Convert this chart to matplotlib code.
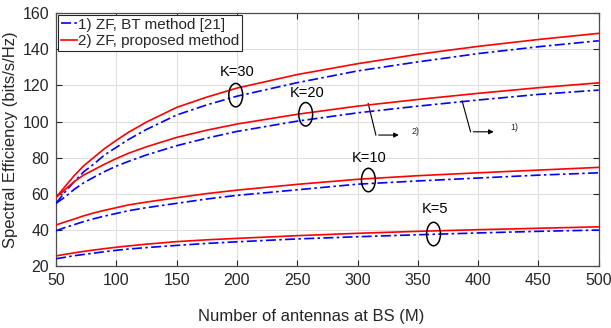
import matplotlib
matplotlib.use('Agg')
import matplotlib.pyplot as plt
from matplotlib.patches import Ellipse

plt.rcParams['font.family'] = ['Liberation Sans', 'DejaVu Sans']

# number of BS antennas
M = [50, 57, 65, 73, 82, 90, 100, 110, 125, 150, 175, 200, 250, 300, 350, 400, 450, 500]

# spectral efficiency (bits/s/Hz), BT method [21] and proposed method
bt_k30 = [54.7, 60.6, 66.7, 72.2, 76.8, 81.4, 85.7, 90.0, 95.6, 103.6, 109.2, 114.0, 121.5, 128.0, 133.0, 137.6, 141.4, 144.7]
pr_k30 = [58.0, 63.6, 70.0, 75.5, 80.5, 84.9, 89.6, 94.0, 99.7, 107.8, 113.5, 118.5, 126.0, 132.0, 137.2, 141.6, 145.4, 148.8]
bt_k20 = [54.7, 58.0, 62.4, 66.1, 69.4, 72.2, 75.3, 77.9, 81.5, 86.6, 90.8, 94.5, 100.2, 104.8, 108.5, 111.9, 115.0, 117.4]
pr_k20 = [58.0, 62.0, 66.7, 70.4, 73.5, 76.3, 79.5, 82.4, 86.0, 91.2, 95.2, 98.6, 104.0, 108.5, 112.2, 115.6, 118.7, 121.4]
bt_k10 = [39.5, 41.2, 42.9, 44.6, 46.3, 47.6, 49.1, 50.6, 52.3, 54.7, 57.1, 59.1, 62.2, 65.3, 67.1, 68.7, 70.3, 71.6]
pr_k10 = [42.7, 44.3, 46.0, 47.8, 49.5, 50.8, 52.3, 53.8, 55.4, 57.8, 60.1, 62.0, 65.2, 68.0, 70.0, 71.6, 73.1, 74.6]
bt_k5 = [24.0, 24.8, 25.7, 26.4, 27.2, 27.9, 28.7, 29.4, 30.2, 31.4, 32.5, 33.4, 35.0, 36.2, 37.3, 38.3, 39.2, 39.9]
pr_k5 = [25.6, 26.4, 27.3, 28.1, 28.9, 29.6, 30.4, 31.1, 32.1, 33.5, 34.5, 35.3, 36.8, 38.1, 39.2, 40.1, 40.9, 41.7]

bt_curves = [bt_k30, bt_k20, bt_k10, bt_k5]
pr_curves = [pr_k30, pr_k20, pr_k10, pr_k5]

# user-count labels: (text, ellipse centre x, ellipse centre y, text y)
k_labels = [('K=30', 199, 114.6, 127.5),
            ('K=20', 257, 104.0, 116.0),
            ('K=10', 309, 67.6, 79.6),
            ('K=5', 363, 37.7, 51.4)]

txt = '#262626'
fig = plt.figure(figsize=(6.11, 3.28), dpi=100)
ax = fig.add_axes([0.0917, 0.189, 0.8883, 0.771])

dashdot = (0, (6, 2, 1.5, 2))
for i in range(len(bt_curves)):
    ax.plot(M, bt_curves[i], color='#0000ff', lw=1.2, linestyle=dashdot,
            label='1) ZF, BT method [21]' if i == 0 else None, zorder=3)
    ax.plot(M, pr_curves[i], color='#ff0000', lw=1.2, linestyle='-',
            label='2) ZF, proposed method' if i == 0 else None, zorder=3)

for name, ex, ey, ty in k_labels:
    ax.add_patch(Ellipse((ex, ey), 11.5, 13.0, fill=False, ec='black', lw=1.1, zorder=4))
    ax.text(ex + 1, ty, name, ha='center', va='center', fontsize=10.5, color='black')

# pointers to the two K=20 curves
ax.plot([308.8, 315.2], [110.0, 92.5], color='black', lw=0.8)
ax.annotate('', xy=(336.5, 92.5), xytext=(315.2, 92.5),
            arrowprops=dict(arrowstyle='-|>', color='black', lw=0.8, mutation_scale=7))
ax.text(344.5, 94.5, '2)', fontsize=6.5, va='center', ha='left', color=txt)
ax.plot([386.7, 393.7], [111.4, 94.3], color='black', lw=0.8)
ax.annotate('', xy=(415.2, 94.3), xytext=(393.7, 94.3),
            arrowprops=dict(arrowstyle='-|>', color='black', lw=0.8, mutation_scale=7))
ax.text(427.0, 96.5, '1)', fontsize=6.5, va='center', ha='left', color=txt)

ax.set_xlim(50, 500)
ax.set_ylim(20, 160)
ax.set_xticks(range(50, 501, 50))
ax.set_yticks(range(20, 161, 20))
ax.grid(True, color='#dfdfdf', lw=0.8)
ax.set_axisbelow(True)
ax.tick_params(direction='in', top=True, right=True, length=4, width=0.8,
               labelsize=11.5, colors=txt, pad=5)
for s in ax.spines.values():
    s.set_color('#4d4d4d')
    s.set_linewidth(0.9)

ax.set_xlabel('Number of antennas at BS (M)', fontsize=12, color=txt, va='center')
ax.xaxis.set_label_coords(0.471, -0.198)
ax.set_ylabel('Spectral Efficiency (bits/s/Hz)', fontsize=12, color=txt, labelpad=3)

leg = ax.legend(loc='upper left', fontsize=11, frameon=True, fancybox=False,
                borderpad=0.2, labelspacing=0.15, handlelength=1.1, handletextpad=0.05,
                borderaxespad=0.1)
leg.get_frame().set_edgecolor('#262626')
leg.get_frame().set_linewidth(0.8)
leg.get_frame().set_alpha(1)
for t in leg.get_texts():
    t.set_color(txt)

fig.savefig('out.png', dpi=100)
